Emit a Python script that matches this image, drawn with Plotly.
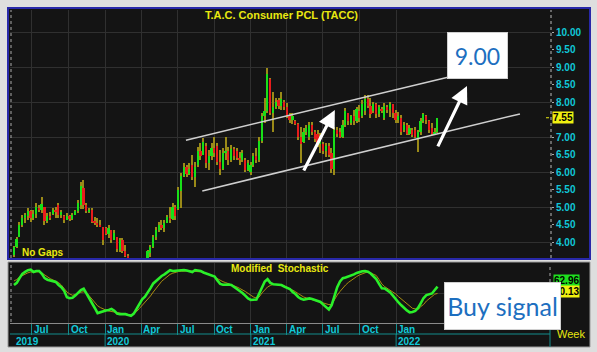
import pandas as pd
import plotly.graph_objects as go

# ---------------- data ----------------
dates = pd.date_range("2019-05-17", periods=153, freq="7D")

opens = [3.62,3.86,4.15,4.50,4.68,4.75,4.90,4.70,4.80,4.98,4.92,5.00,4.60,4.74,4.80,4.92,5.05,4.78,4.75,4.62,
         4.75,4.65,4.78,4.88,5.05,5.55,5.05,4.88,4.92,4.58,4.55,4.50,4.43,4.40,4.22,4.35,4.05,4.14,3.78,4.05,
         3.75,3.60,3.30,2.95,2.80,3.05,3.20,3.35,3.55,3.70,3.85,4.15,4.35,4.50,4.40,4.55,4.70,4.65,5.00,4.95,
         5.45,5.90,6.15,5.95,6.20,5.85,6.20,6.60,6.50,6.75,6.25,6.45,6.70,6.75,6.30,6.10,6.55,6.60,6.35,6.65,
         6.60,6.40,6.35,6.35,6.05,6.00,6.20,6.45,6.35,6.90,7.60,7.75,8.65,7.70,7.85,8.05,7.88,8.00,7.85,7.60,
         7.50,7.45,7.38,7.00,6.85,7.15,7.00,7.35,7.15,7.10,6.80,6.80,6.60,6.75,6.55,6.10,7.20,7.15,7.00,7.35,
         7.70,7.40,7.60,7.45,7.75,7.60,7.75,8.10,7.90,7.75,7.95,7.65,7.80,7.55,7.85,7.80,7.95,7.70,7.50,7.55,
         7.20,7.35,7.10,7.20,7.20,6.95,7.15,7.45,7.60,7.45,7.25,7.10,7.15]
highs = [3.90,4.14,4.57,4.77,4.83,4.97,4.91,4.91,5.11,5.06,5.29,5.00,4.83,4.86,4.97,5.00,5.11,4.91,4.77,4.83,
         4.77,4.83,4.91,5.20,5.71,5.77,5.11,4.97,4.97,4.71,4.69,4.63,4.43,4.43,4.49,4.34,4.34,4.14,4.11,4.11,
         3.91,3.65,3.40,3.10,3.20,3.30,3.45,3.55,3.77,3.91,4.20,4.43,4.57,4.63,4.63,4.77,5.00,5.11,5.06,5.57,
         5.97,6.26,6.20,6.26,6.49,6.29,6.71,6.83,6.97,6.83,6.63,6.83,7.00,6.83,6.63,6.69,7.00,6.71,6.77,6.71,
         6.69,6.57,6.63,6.40,6.34,6.29,6.54,6.69,7.00,7.69,8.11,8.97,8.69,8.29,8.11,8.11,8.29,8.06,7.97,7.69,
         7.69,7.49,7.40,7.29,7.26,7.34,7.43,7.43,7.20,7.20,7.11,6.86,6.83,6.83,6.69,7.29,7.29,7.26,7.49,7.83,
         7.69,7.63,7.77,7.86,7.91,8.06,8.20,8.20,8.11,8.00,7.97,7.91,7.86,7.97,7.91,8.00,7.91,7.77,7.71,7.63,
         7.43,7.40,7.34,7.26,7.29,7.20,7.54,7.69,7.63,7.49,7.40,7.26,7.54]
lows = [3.57,3.83,4.14,4.43,4.54,4.63,4.57,4.63,4.69,4.86,4.83,4.49,4.54,4.63,4.77,4.69,4.69,4.69,4.54,4.63,
        4.60,4.63,4.77,4.83,4.95,4.95,4.83,4.83,4.54,4.49,4.43,4.43,3.91,4.20,4.11,3.97,4.06,3.71,3.71,3.69,
        3.57,3.20,2.80,2.60,2.70,2.90,3.00,3.20,3.52,3.57,3.83,4.06,4.29,4.34,4.29,4.54,4.54,4.63,4.63,4.91,
        4.97,5.86,5.86,5.91,5.77,5.57,6.15,6.34,6.49,6.11,6.06,6.34,6.43,6.20,5.91,6.05,6.34,6.20,6.30,6.34,
        6.34,6.20,6.30,6.00,6.02,5.91,6.15,6.26,6.29,6.83,7.40,7.69,7.63,7.14,7.80,7.80,7.77,7.77,7.54,7.40,
        7.37,7.34,6.91,6.26,6.83,7.06,6.91,7.06,6.86,6.71,6.54,6.51,6.43,6.43,5.97,5.91,7.00,6.97,6.97,7.29,
        7.34,7.34,7.34,7.40,7.43,7.54,7.63,7.83,7.54,7.69,7.54,7.57,7.69,7.49,7.69,7.57,7.54,7.40,7.40,7.06,
        7.14,7.06,7.06,7.00,6.97,6.57,7.06,7.40,7.37,7.11,7.06,7.06,7.11]
closes = [3.85,4.10,4.50,4.70,4.78,4.90,4.68,4.80,5.00,4.92,5.10,4.60,4.75,4.68,4.92,4.85,4.78,4.85,4.62,4.75,
          4.65,4.78,4.88,5.12,5.60,5.05,4.88,4.92,4.58,4.55,4.50,4.45,4.05,4.22,4.40,4.05,4.25,3.80,4.05,3.75,
          3.60,3.30,2.95,2.80,3.05,3.20,3.35,3.50,3.75,3.85,4.15,4.35,4.50,4.40,4.55,4.72,4.65,5.00,4.75,5.50,
          5.90,6.15,5.95,6.10,5.85,6.15,6.60,6.45,6.85,6.25,6.45,6.70,6.55,6.30,6.10,6.55,6.60,6.35,6.65,6.45,
          6.40,6.35,6.55,6.05,6.25,6.20,6.45,6.35,6.90,7.60,7.75,8.80,7.70,7.85,8.00,7.88,8.10,7.85,7.60,7.50,
          7.60,7.38,7.00,6.80,7.15,7.25,7.35,7.15,6.95,6.80,7.00,6.60,6.75,6.50,6.10,7.20,7.10,7.00,7.35,7.75,
          7.45,7.60,7.45,7.80,7.55,7.95,8.10,7.90,7.65,7.95,7.65,7.85,7.75,7.90,7.80,7.95,7.70,7.50,7.60,7.15,
          7.35,7.10,7.25,7.05,7.00,7.15,7.45,7.65,7.50,7.20,7.10,7.15,7.55]

stoch_k = [66,70,79,87,91,94,95,90.5,92.5,92.5,87,79,76,74.5,73.5,71.7,66,62,55,43,
           41,42,46,52,56.6,59,50,42.5,34,22.6,13,15,16,18,19,21,17.5,12,11,11,
           11,9.4,8,12,21,30,39,44,51,60,69,74,79,83,86,90.5,94,92.5,93,94,
           94.3,94.3,93.4,92.5,90.5,94.3,93.4,92.5,89.6,87.5,86,84,82,74.5,68,66.4,67,66.8,66,62.6,
           59,55.7,51,46,40.6,37.7,37.7,38.7,50,63,72.6,77,70,67.4,67.4,67,66,63,61.3,58.5,
           52.8,49,43.4,40,38.3,39.2,40.7,39.6,37.5,36.2,34,29,23.6,19.8,28,47,62,72.6,78.7,80,
           82,83,86,88.7,91,92,92.5,91,87.7,83,77,68,59.8,59.4,55.7,52,46,38.7,33,27.7,
           22.6,18,14.5,15,17,22.6,32,41.5,47,49,50,56.6,62.96]
stoch_d = [73.6,76.4,81,84,86.8,89,90.5,91,91,91,88.7,85,80.6,78,75.5,73,70.6,66,59.8,52.8,
           49,46.6,48,51,52.4,53.2,52,45.5,39.6,32.8,26.8,23.4,20.4,18.7,17,16.4,15.3,14,12.8,12,
           11,10.4,9.4,12,15.8,21.7,27.4,33,38.9,45.3,52.8,59.8,66.8,73,77.4,82,86,88.3,90.2,91.3,
           91.9,92.5,92.6,92.5,92,91.9,91.5,90.8,89.2,87.7,86.2,84,80.8,77.5,75.3,72.3,70.4,68.7,67,65,
           62.3,59.6,57.2,53.8,50.2,46.4,43.2,41.5,43.4,51,57.4,62.3,65,67.4,67,66.6,66.2,64.7,61.9,59.4,
           56.6,53.4,49.8,46,43.2,41.5,39.8,38.1,36.4,34.7,32.8,31.1,30.2,29,29.2,38.7,47,53.8,60.4,66,
           70.8,75,78.7,82,85,87,89,91,88.7,86.4,84,76.4,68,63,59.6,56.6,53.2,49,44,39.6,
           34.3,29.4,25,22,21,19.6,25.5,29.2,35.8,41,44.3,48.7,50.13]

# 7.50 is hidden behind the last-price label in the reference
price_ticks = [4.0, 4.5, 5.0, 5.5, 6.0, 6.5, 7.0, 8.0, 8.5, 9.0, 9.5, 10.0]
quarter_ticks = ["2019-07-01", "2019-10-01", "2020-01-01", "2020-04-01", "2020-07-01", "2020-10-01",
                 "2021-01-01", "2021-04-01", "2021-07-01", "2021-10-01", "2022-01-01"]
quarter_labels = ["Jul", "Oct", "Jan", "Apr", "Jul", "Oct", "Jan", "Apr", "Jul", "Oct", "Jan"]
year_ticks = ["2020-01-01", "2021-01-01", "2022-01-01"]
year_labels = ["2020", "2021", "2022"]

# channel lines and arrows (date, price)
channel_upper = [("2020-07-22", 6.91), ("2022-05-11", 8.71)]
channel_lower = [("2020-09-01", 5.46), ("2022-11-08", 7.66)]
arrows = [(("2021-05-12", 6.00), ("2021-07-31", 7.77)),
          (("2022-04-14", 6.69), ("2022-06-28", 8.46))]

# ---------------- styling ----------------
W, H = 597, 352
def px(x): return x / W
def py(y): return 1 - y / H

BG = "#141414"
GRID = "#303030"
OLIVE = "#9a8a18"
UPC = "#18e018"
DNC = "#e81c1c"
CYAN = "#10c8d8"
YEL = "#e8e810"
TEAL = "#138c8c"
NARROW = "Liberation Sans Narrow, Liberation Sans, Arial"

x_range = ["2019-05-07", "2023-01-25"]
y_range = [3.543, 10.629]
s_range = [-5.7, 107.5]

week_ms = 7 * 86400000
body_base = [min(o, c) for o, c in zip(opens, closes)]
body_h = [max(abs(c - o), 0.03) for o, c in zip(opens, closes)]
body_col = [UPC if c >= o else DNC for o, c in zip(opens, closes)]
rng_h = [h - l for h, l in zip(highs, lows)]

fig = go.Figure()
fig.add_trace(go.Bar(x=dates, y=rng_h, base=lows, width=0.5 * week_ms,
                     marker=dict(color=OLIVE, line=dict(width=0)), xaxis="x", yaxis="y",
                     hoverinfo="skip"))
fig.add_trace(go.Bar(x=dates, y=body_h, base=body_base, width=0.62 * week_ms,
                     marker=dict(color=body_col, line=dict(width=0)), xaxis="x", yaxis="y",
                     hoverinfo="skip"))
fig.add_trace(go.Scatter(x=dates, y=stoch_d, mode="lines", line=dict(color="#a88c10", width=1),
                         xaxis="x2", yaxis="y2"))
fig.add_trace(go.Scatter(x=dates, y=stoch_k, mode="lines", line=dict(color="#2af02a", width=2.6),
                         xaxis="x2", yaxis="y2"))

shapes = []
# panel frames
shapes.append(dict(type="rect", xref="paper", yref="paper", x0=px(8), x1=px(590), y0=py(259), y1=py(8),
                   fillcolor=BG, line=dict(color="#2828a8", width=2), layer="below"))
shapes.append(dict(type="rect", xref="paper", yref="paper", x0=px(8), x1=px(590), y0=py(347), y1=py(262),
                   fillcolor=BG, line=dict(color="#9a9a9a", width=1), layer="below"))
# dotted axis lines
shapes.append(dict(type="line", xref="paper", yref="paper", x0=px(551), x1=px(551), y0=py(258), y1=py(10),
                   line=dict(color="#bbbbbb", width=1, dash="dot")))
shapes.append(dict(type="line", xref="paper", yref="paper", x0=px(11), x1=px(11), y0=py(258), y1=py(10),
                   line=dict(color="#aaaaaa", width=1, dash="dot")))
shapes.append(dict(type="line", xref="paper", yref="paper", x0=px(11), x1=px(11), y0=py(322), y1=py(264),
                   line=dict(color="#aaaaaa", width=1, dash="dot")))
shapes.append(dict(type="line", xref="paper", yref="paper", x0=px(550), x1=px(550), y0=py(288), y1=py(264),
                   line=dict(color="#aaaaaa", width=1, dash="dot")))
# last-price marker
shapes.append(dict(type="line", xref="paper", yref="y", x0=px(546), x1=px(549), y0=closes[-1], y1=closes[-1],
                   line=dict(color=YEL, width=1)))
# date axis rows
shapes.append(dict(type="line", xref="paper", yref="paper", x0=px(10), x1=px(550), y0=py(334), y1=py(334),
                   line=dict(color=TEAL, width=1)))
shapes.append(dict(type="line", xref="paper", yref="paper", x0=px(550), x1=px(550), y0=py(347), y1=py(323),
                   line=dict(color=TEAL, width=1)))
for d in year_ticks:
    shapes.append(dict(type="line", xref="x2", yref="paper", x0=d, x1=d, y0=py(347), y1=py(334),
                       line=dict(color=TEAL, width=1)))
# channel
for seg in (channel_upper, channel_lower):
    shapes.append(dict(type="line", xref="x", yref="y", x0=seg[0][0], y0=seg[0][1], x1=seg[1][0], y1=seg[1][1],
                       line=dict(color="#cfcfcf", width=1.5)))

ann = []
def txt(text, x, y, xanchor="center", size=10, color=YEL, bold=True, xref="paper", **kw):
    d = dict(text=text, xref=xref, yref="paper", x=x, y=y, xanchor=xanchor, yanchor="middle",
             showarrow=False, font=dict(family=NARROW, size=size, color=color,
                                        weight="bold" if bold else "normal"))
    d.update(kw)
    return d

ann.append(txt("T.A.C. Consumer PCL (TACC)", px(281), py(15), size=11))
ann.append(txt("No Gaps", px(20), py(252.5), xanchor="left"))
ann.append(txt("Modified  Stochastic", px(280), py(268)))
ann.append(txt("Week", px(555), py(334), xanchor="left", size=11, bold=False))
for d, t in zip(quarter_ticks, quarter_labels):
    ann.append(txt(t, d, py(329.5), xanchor="left", color=CYAN, xref="x2"))
ann.append(txt("2019", px(14), py(341), xanchor="left", color=CYAN))
for d, t in zip(year_ticks, year_labels):
    ann.append(txt(t, d, py(341), xanchor="left", color=CYAN, xref="x2"))
# last price label
ann.append(dict(text="7.55", xref="paper", yref="y", x=px(552), y=closes[-1], xanchor="left",
                yanchor="middle", showarrow=False, bgcolor="#f0f010", borderpad=0,
                font=dict(family=NARROW, size=10, color="#000000", weight="bold")))
# stochastic labels
ann.append(txt(f"{stoch_k[-1]:.2f}", px(553), py(280.5), xanchor="left", color="#000000",
               bgcolor="#1ee01e", borderpad=0))
ann.append(txt(f"{stoch_d[-1]:.2f}", px(553), py(291), xanchor="left", color="#000000",
               bgcolor="#f0f010", borderpad=0))
# arrows
for (tail, head) in arrows:
    ann.append(dict(text="", x=head[0], y=head[1], ax=tail[0], ay=tail[1], xref="x", yref="y",
                    axref="x", ayref="y", showarrow=True, arrowhead=2, arrowsize=1.1, arrowwidth=3.2,
                    arrowcolor="#ffffff", standoff=0))
# callout boxes
ann.append(dict(text="9.00", xref="paper", yref="paper", x=px(477), y=py(55), xanchor="center",
                yanchor="middle", showarrow=False,
                bgcolor="#ffffff", bordercolor="#d0d0d0", borderwidth=1, width=57, height=43,
                font=dict(family="Lato, Open Sans", size=23, color="#1d6fc0")))
ann.append(dict(text="Buy signal", xref="paper", yref="paper", x=px(503), y=py(305.5), xanchor="center",
                yanchor="middle", showarrow=False,
                bgcolor="#ffffff", bordercolor="#d0d0d0", borderwidth=1, width=113, height=44,
                font=dict(family="Lato, Open Sans", size=25, color="#1d6fc0")))

fig.update_layout(
    width=W, height=H, margin=dict(l=0, r=0, t=0, b=0),
    paper_bgcolor="#dedede", plot_bgcolor=BG, showlegend=False, barmode="overlay", bargap=0,
    xaxis=dict(domain=[px(10), px(551)], range=x_range, type="date", anchor="y",
               tickvals=quarter_ticks, showticklabels=False, ticks="", showgrid=True,
               gridcolor=GRID, gridwidth=1, zeroline=False, showline=False),
    yaxis=dict(domain=[py(258), py(10)], range=y_range, anchor="x", side="right",
               tickvals=price_ticks, ticktext=[f"{v:.2f}" for v in price_ticks],
               tickfont=dict(family=NARROW, size=10, color=CYAN, weight="bold"),
               showgrid=False, zeroline=False, ticks="outside", ticklen=2, tickcolor="#aaaaaa"),
    yaxis3=dict(overlaying="y", range=y_range, anchor="x", side="right", dtick=1, tick0=0,
                showgrid=True, gridcolor=GRID, showticklabels=False, zeroline=False, ticks=""),
    xaxis2=dict(domain=[px(10), px(551)], range=x_range, type="date", anchor="y2", matches="x",
                tickvals=quarter_ticks, showticklabels=False, ticks="outside", ticklen=11,
                tickcolor=TEAL, showgrid=True, gridcolor=GRID, zeroline=False,
                showline=True, linecolor="#8a8a8a"),
    yaxis2=dict(domain=[py(323), py(263)], range=s_range, anchor="x2", side="right",
                tickvals=[50], showticklabels=False, showgrid=True, gridcolor=GRID,
                zeroline=False, ticks=""),
    shapes=shapes, annotations=ann,
)
fig.add_trace(go.Scatter(x=[dates[0]], y=[y_range[0] - 1], yaxis="y3", xaxis="x",
                         mode="markers", marker=dict(opacity=0), hoverinfo="skip"))

fig.write_html("out.html")
